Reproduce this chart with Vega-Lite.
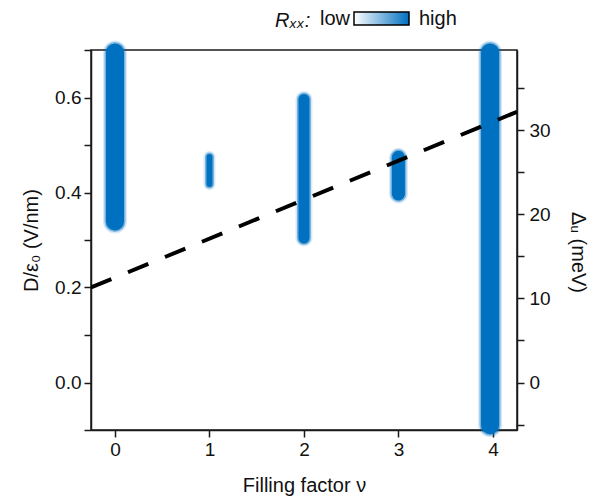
{
  "$schema": "https://vega.github.io/schema/vega-lite/v6.json",
  "width": 426,
  "height": 380,
  "autosize": {"type": "none"},
  "padding": {"left": 91, "top": 50, "right": 72, "bottom": 71},
  "background": "white",
  "config": {
    "font": "Liberation Sans",
    "view": {"stroke": "#1a1a1a", "strokeWidth": 1.5},
    "axis": {
      "grid": false,
      "domainColor": "#1a1a1a",
      "domainWidth": 1.5,
      "tickColor": "#1a1a1a",
      "tickWidth": 1.5,
      "tickSize": 7,
      "labelColor": "#111111",
      "labelFontSize": 19,
      "titleColor": "#111111",
      "titleFontSize": 20,
      "titleFontWeight": "normal"
    }
  },
  "datasets": {
    "bars": [
      {"nu": 0, "lo": 0.339, "hi": 0.695, "Rxx": 1},
      {"nu": 1, "lo": 0.418, "hi": 0.475, "Rxx": 1},
      {"nu": 2, "lo": 0.304, "hi": 0.596, "Rxx": 1},
      {"nu": 3, "lo": 0.397, "hi": 0.474, "Rxx": 1},
      {"nu": 3.97, "lo": -0.09, "hi": 0.695, "Rxx": 1}
    ],
    "guide": [
      {"nu": -0.254, "gap": 11.3},
      {"nu": 4.255, "gap": 32.2}
    ]
  },
  "layer": [
    {
      "data": {"name": "bars"},
      "encoding": {
        "x": {
          "field": "nu",
          "type": "quantitative",
          "scale": {"domain": [-0.254, 4.255], "nice": false, "zero": false},
          "axis": {"title": "Filling factor ν", "values": [0, 1, 2, 3, 4], "format": "d", "labelPadding": 3, "titlePadding": 16}
        },
        "y": {
          "field": "lo",
          "type": "quantitative",
          "scale": {"domain": [-0.1, 0.7], "nice": false, "zero": false},
          "axis": {
            "title": "D/ε₀ (V/nm)",
            "values": [-0.1, 0, 0.1, 0.2, 0.3, 0.4, 0.5, 0.6, 0.7],
            "labelExpr": "abs(round(datum.value*10)) % 2 == 0 ? format(datum.value, '.1f') : ''",
            "labelPadding": 3,
            "titlePadding": 13
          }
        },
        "y2": {"field": "hi"},
        "color": {
          "field": "Rxx",
          "type": "quantitative",
          "scale": {"domain": [0, 1], "range": ["#ffffff", "#0070c0"], "interpolate": "rgb"},
          "legend": {
            "orient": "none",
            "direction": "horizontal",
            "legendX": 184,
            "legendY": -38,
            "gradientLength": 55,
            "gradientThickness": 13,
            "gradientStrokeColor": "#000000",
            "gradientStrokeWidth": 1.5,
            "title": "Rₓₓ:",
            "titleOrient": "left",
            "titlePadding": 43,
            "titleFontStyle": "italic",
            "titleFontWeight": "normal",
            "titleFontSize": 20,
            "titleColor": "#111111",
            "titleBaseline": "middle",
            "labelFontSize": 20,
            "labelColor": "#111111",
            "values": [0, 1],
            "labelExpr": "datum.value < 0.5 ? 'low' : 'high'",
            "labelOverlap": false,
            "encode": {
              "title": {"update": {"dy": {"value": 2}}},
              "labels": {
                "update": {
                  "align": {"signal": "datum.value < 0.5 ? 'right' : 'left'"},
                  "baseline": {"value": "middle"},
                  "y": {"value": 6.5},
                  "dx": {"signal": "datum.value < 0.5 ? -4 : 10"}
                }
              }
            }
          }
        }
      },
      "layer": [
        {
          "mark": {"type": "rule", "strokeCap": "round", "opacity": 0.15},
          "encoding": {
            "strokeWidth": {
              "field": "nu",
              "type": "ordinal",
              "scale": {"type": "ordinal", "domain": [0, 1, 2, 3, 3.97], "range": [24, 12, 17, 19, 24]},
              "legend": null
            }
          }
        },
        {
          "mark": {"type": "rule", "strokeCap": "round", "opacity": 0.45},
          "encoding": {
            "strokeWidth": {
              "field": "nu",
              "type": "ordinal",
              "scale": {"type": "ordinal", "domain": [0, 1, 2, 3, 3.97], "range": [21, 9, 14, 16, 21]},
              "legend": null
            }
          }
        },
        {
          "mark": {"type": "rule", "strokeCap": "round"},
          "encoding": {
            "strokeWidth": {
              "field": "nu",
              "type": "ordinal",
              "scale": {"type": "ordinal", "domain": [0, 1, 2, 3, 3.97], "range": [18, 6, 11, 13, 18]},
              "legend": null
            }
          }
        }
      ],
      "resolve": {"scale": {"strokeWidth": "independent"}}
    },
    {
      "data": {"name": "guide"},
      "mark": {"type": "line", "strokeDash": [22, 18], "strokeWidth": 4, "color": "#000000", "clip": true},
      "encoding": {
        "x": {"field": "nu", "type": "quantitative"},
        "y": {
          "field": "gap",
          "type": "quantitative",
          "scale": {"domain": [-5.65, 39.55], "nice": false, "zero": false},
          "axis": {
            "orient": "right",
            "title": "Δᵤ (meV)",
            "titleAngle": 90,
            "titleY": 202,
            "values": [-5, 0, 5, 10, 15, 20, 25, 30, 35],
            "labelExpr": "datum.value % 10 == 0 ? format(datum.value, 'd') : ''",
            "labelPadding": 5,
            "titlePadding": 17
          }
        }
      }
    }
  ],
  "resolve": {"scale": {"y": "independent"}}
}
